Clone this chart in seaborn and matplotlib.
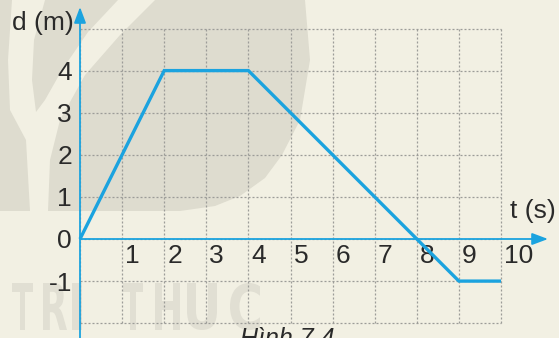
import numpy as np
import pandas as pd
import seaborn as sns
import matplotlib.pyplot as plt
from matplotlib.path import Path
from matplotlib.patches import PathPatch, Polygon
from matplotlib.textpath import TextPath
from matplotlib.font_manager import FontProperties
from matplotlib.transforms import Affine2D

# Position-time data of the moving object
t_values = [0, 2, 4, 9, 10]
d_values = [0, 4, 4, -1, -1]

x_ticks = [1, 2, 3, 4, 5, 6, 7, 8, 9, 10]
y_ticks = [-1, 0, 1, 2, 3, 4]

x_label = "t (s)"
y_label = "d (m)"
caption = "Hình 7.4"
publisher = "TRI THỨC"

W, H = 559, 338
U = 42.1            # pixels per data unit
X0, Y0 = 80, 239    # pixel position of the origin (from top-left)

BG = "#f2f0e3"
SHADE = "#dedccf"
BLUE = "#1ba3df"
GRID = "#9c9c98"
TEXT = "#2a2a2a"

sns.set_theme(style="white")
plt.rcParams["font.family"] = ["Liberation Sans", "DejaVu Sans"]

fig = plt.figure(figsize=(W / 100, H / 100), dpi=100)
fig.patch.set_facecolor(BG)
ax = fig.add_axes([0, 0, 1, 1])
ax.set_facecolor("none")
ax.set_xlim(-X0 / U, (W - X0) / U)
ax.set_ylim(-(H - Y0) / U, Y0 / U)
ax.axis("off")

# pixel coordinates measured from the top-left corner
pix = Affine2D().scale(1, -1).translate(0, H)

# faint publisher logo in the background
d_shape = [(0, 0), (305, 0), (310, 60), (300, 120), (282, 155), (265, 178),
           (240, 196), (215, 206), (180, 211), (0, 211)]
fig.add_artist(Polygon(d_shape, closed=True, transform=pix, facecolor=SHADE,
                       edgecolor="none", zorder=0))
light_band = [(12, 0), (8, 60), (10, 110), (26, 140), (30, 211), (48, 211),
              (50, 160), (60, 120), (85, 75), (120, 35), (155, 0), (118, 0),
              (88, 32), (62, 70), (45, 100), (36, 112), (32, 80), (34, 40),
              (45, 0)]
fig.add_artist(Polygon(light_band, closed=True, transform=pix, facecolor=BG,
                       edgecolor="none", zorder=0))

# condensed block letters of the publisher name
boxes = [(12, 33), (43, 67), (72, 82), None, (123, 143), (155, 180),
         (187, 217), (230, 260)]
fp = FontProperties(family="DejaVu Sans", weight="bold")
for ch, box in zip(publisher, boxes):
    if box is None:
        continue
    tp = TextPath((0, 0), "U" if ch == "Ứ" else ch, size=100, prop=fp)
    ext = tp.get_extents()
    sx = (box[1] - box[0]) / ext.width
    sy = 47 / ext.height
    tr = (Affine2D().translate(-ext.x0, -ext.y0).scale(sx, -sy)
          .translate(box[0], 330))
    fig.add_artist(PathPatch(tr.transform_path(tp), transform=pix,
                             facecolor="#e1dfd3", edgecolor="none", zorder=0))

# dotted grid
grid_x = list(range(0, 11))
grid_y = list(range(-2, 6))
ax.vlines(grid_x, -2, 5, colors=GRID, linewidth=0.9,
          linestyles=(0, (1.6, 1.6)), zorder=1)
ax.hlines(grid_y, 0, 10, colors=GRID, linewidth=0.9,
          linestyles=(0, (1.6, 1.6)), zorder=1)

# axes with arrow heads
arrow = dict(arrowstyle="-|>,head_length=0.8,head_width=0.3", color=BLUE,
             lw=1.3, mutation_scale=12, shrinkA=0, shrinkB=0)
ax.annotate("", xy=((548 - X0) / U, 0), xytext=(0, 0), arrowprops=arrow,
            zorder=3)
ax.annotate("", xy=(0, (Y0 - 7) / U), xytext=(0, -(H - Y0 + 5) / U),
            arrowprops=arrow, zorder=3)

# the motion graph
df = pd.DataFrame({"t": t_values, "d": d_values})
sns.lineplot(data=df, x="t", y="d", color=BLUE, linewidth=2.4,
             estimator=None, sort=False, ax=ax, zorder=4)
for ln in ax.get_lines():
    ln.set_solid_joinstyle("miter")
    ln.set_solid_capstyle("butt")

fs = 19
for v in x_ticks:
    ax.text(v + 3 / U, -24 / U, str(v), ha="left", va="baseline",
            fontsize=fs, color=TEXT)
for v in y_ticks:
    ax.text(-8 / U, v - 9.5 / U, str(v), ha="right", va="baseline",
            fontsize=fs, color=TEXT)

ax.text(-6 / U, (Y0 - 30) / U, y_label, ha="right", va="baseline",
        fontsize=fs, color=TEXT)
ax.text((510 - X0) / U, (Y0 - 218) / U, x_label, ha="left", va="baseline",
        fontsize=fs, color=TEXT)
ax.text((240 - X0) / U, -(346 - Y0) / U, caption, ha="left", va="baseline",
        fontsize=fs - 1, style="italic", color=TEXT, clip_on=False)

fig.savefig("out.png", dpi=100, facecolor=BG)
